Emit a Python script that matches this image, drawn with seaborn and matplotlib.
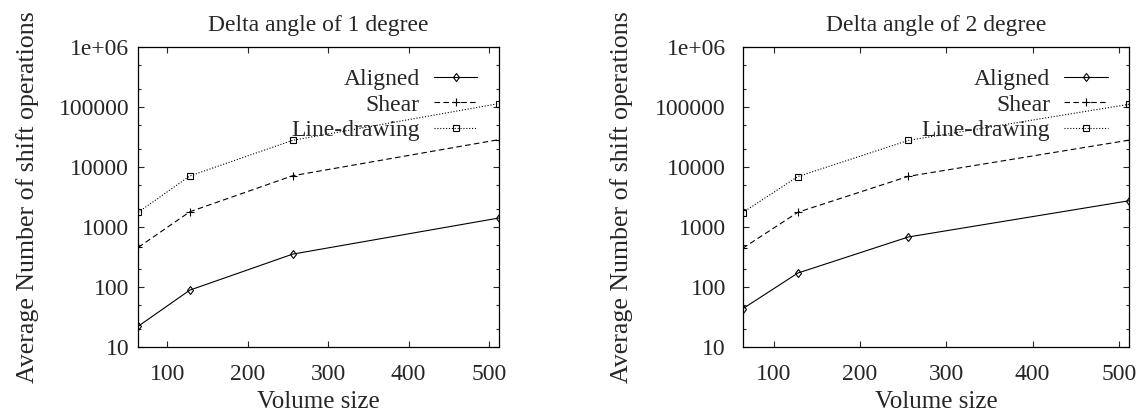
import pandas as pd
import matplotlib
matplotlib.use('Agg')
import matplotlib.pyplot as plt
import seaborn as sns
from matplotlib.ticker import FixedLocator, FixedFormatter, NullFormatter

# data
volume = [64, 128, 256, 512]
aligned_1 = [22, 88, 352, 1408]
shear_1 = [456, 1792, 7168, 28672]
line_1 = [1760, 7100, 28000, 114688]
aligned_2 = [43, 170, 680, 2740]
shear_2 = [440, 1760, 7000, 28200]
line_2 = [1740, 6950, 27900, 112000]

methods = ['Aligned', 'Shear', 'Line-drawing']
titles = ['Delta angle of 1 degree', 'Delta angle of 2 degree']
y_ticks = [10, 100, 1000, 10000, 100000, 1000000]
y_tick_labels = ['10', '100', '1000', '10000', '100000', '1e+06']
x_ticks = [100, 200, 300, 400, 500]

sns.set_style('ticks')
plt.rcParams['font.family'] = ['Liberation Serif', 'DejaVu Serif']
plt.rcParams['font.size'] = 17

fig = plt.figure(figsize=(11.45, 4.12), dpi=100)
ax1 = fig.add_axes([138.3 / 1145, 65.3 / 412, 360.4 / 1145, 299.4 / 412])
ax2 = fig.add_axes([742.7 / 1145, 65.3 / 412, 386.6 / 1145, 299.4 / 412])

styles = {
    'Aligned': dict(marker='d', linestyle='-', markersize=4.5),
    'Shear': dict(marker='+', linestyle=(0, (5, 3)), markersize=6),
    'Line-drawing': dict(marker='s', linestyle=(0, (1, 1.6)), markersize=5),
}

# axis, series, y tick pad, y label pad
panels = [
    (ax1, [aligned_1, shear_1, line_1], 6.5, 14),
    (ax2, [aligned_2, shear_2, line_2], 12, 16),
]

for i, (ax, series, ypad, ylpad) in enumerate(panels):
    for name, vals in zip(methods, series):
        sns.lineplot(x=volume, y=vals, ax=ax, label=name, color='black',
                     linewidth=0.8, markerfacecolor='none',
                     markeredgecolor='black', markeredgewidth=0.8,
                     **styles[name])
    ax.set_yscale('log')
    ax.set_xlim(64, 512)
    ax.set_ylim(10, 1e6)
    ax.yaxis.set_major_locator(FixedLocator(y_ticks))
    ax.yaxis.set_major_formatter(FixedFormatter(y_tick_labels))
    minors = [m * 10 ** e for e in range(1, 6) for m in (2, 5)]
    ax.yaxis.set_minor_locator(FixedLocator(minors))
    ax.yaxis.set_minor_formatter(NullFormatter())
    ax.set_xticks(x_ticks)
    ax.tick_params(which='both', direction='in', top=True, right=True,
                   width=0.8, labelsize=17)
    ax.tick_params(which='major', length=4.5)
    ax.tick_params(which='minor', length=2.5)
    ax.tick_params(axis='y', which='major', pad=ypad)
    ax.tick_params(axis='x', which='major', pad=12.5)
    for sp in ax.spines.values():
        sp.set_linewidth(0.9)
        sp.set_color('black')
    ax.set_title(titles[i], fontsize=17, pad=12)
    ax.set_xlabel('Volume size', fontsize=18, labelpad=4)
    ax.set_ylabel('Average Number of shift operations', fontsize=18.6,
                  labelpad=ylpad)
    ax.legend(loc='upper right', frameon=False, markerfirst=False,
              fontsize=17, handlelength=1.85, handletextpad=0.6,
              labelspacing=0.17, borderpad=0, borderaxespad=0.9)

fig.savefig('out.png', dpi=100)
